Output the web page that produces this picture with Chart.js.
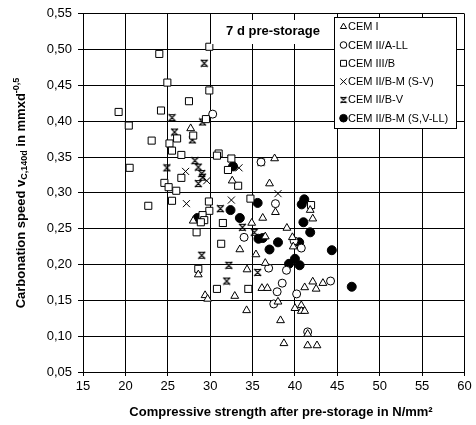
<!DOCTYPE html>
<html>
<head>
<meta charset="utf-8">
<script src="https://cdn.jsdelivr.net/npm/chart.js@4.4.1/dist/chart.umd.min.js"></script>
<style>
  html, body { margin: 0; padding: 0; background: #fff; }
  #wrap { width: 476px; height: 425px; position: relative; }
</style>
</head>
<body>
<div id="wrap"><canvas id="c" width="476" height="425"></canvas></div>
<script>
// ---- data (x = compressive strength N/mm², y = carbonation speed) ----
const seriesNames = ["CEM I", "CEM II/A-LL", "CEM III/B", "CEM II/B-M (S-V)", "CEM II/B-V", "CEM II/B-M (S,V-LL)"];

const cemI = [[27.7,0.390],[32.6,0.317],[37.6,0.348],[37.0,0.313],[37.7,0.273],[36.2,0.265],[41.8,0.276],[42.1,0.264],[39.05,0.251],[28.0,0.261],[34.9,0.258],[33.5,0.221],[35.4,0.214],[36.5,0.239],[39.7,0.238],[39.8,0.225],[36.5,0.202],[34.35,0.193],[28.6,0.186],[36.1,0.167],[36.75,0.167],[29.4,0.157],[29.7,0.152],[32.9,0.156],[34.3,0.136],[41.15,0.168],[42.1,0.176],[42.5,0.166],[43.3,0.174],[38.0,0.148],[40.0,0.139],[40.75,0.143],[40.75,0.135],[41.15,0.135],[38.3,0.122],[41.5,0.103],[38.7,0.090],[41.5,0.087],[42.6,0.087]];

const cemIIA_LL = [[30.3,0.410],[36.0,0.343],[37.7,0.285],[34.0,0.238],[39.9,0.233],[40.75,0.223],[36.9,0.195],[39.0,0.192],[38.5,0.174],[37.9,0.162],[40.2,0.159],[44.2,0.177],[37.5,0.145],[41.5,0.106]];

const cemIIIB = [[24.0,0.494],[29.9,0.504],[24.95,0.454],[29.9,0.443],[27.5,0.428],[19.2,0.413],[24.2,0.415],[29.5,0.403],[20.4,0.394],[23.1,0.373],[28.0,0.380],[26.1,0.376],[25.2,0.369],[25.5,0.359],[26.6,0.353],[31.0,0.355],[30.8,0.352],[20.5,0.335],[32.1,0.332],[26.6,0.321],[33.3,0.310],[24.6,0.314],[25.1,0.308],[26.0,0.303],[32.5,0.348],[22.7,0.282],[25.5,0.289],[29.85,0.288],[29.9,0.275],[34.75,0.292],[29.1,0.269],[29.3,0.262],[28.9,0.259],[28.4,0.245],[31.5,0.258],[31.3,0.229],[28.6,0.194],[30.8,0.166],[34.5,0.166],[41.9,0.283]];

const cemIIBM_SV = [[27.1,0.330],[29.6,0.317],[33.4,0.335],[32.5,0.290],[27.2,0.285],[38.0,0.299],[31.5,0.258],[34.5,0.166]];

const cemIIBV = [[29.3,0.481],[25.5,0.405],[29.1,0.399],[25.8,0.385],[27.9,0.374],[24.9,0.335],[28.2,0.345],[28.6,0.336],[29.0,0.327],[29.1,0.322],[28.6,0.313],[32.5,0.348],[31.2,0.278],[33.8,0.252],[35.2,0.245],[29.0,0.213],[32.2,0.199],[35.6,0.189],[31.95,0.177],[36.0,0.343]];

const cemIIBM_SVLL = [[32.7,0.337],[32.4,0.276],[33.5,0.265],[35.6,0.286],[28.5,0.265],[41.1,0.291],[40.8,0.284],[41.0,0.259],[41.8,0.245],[35.7,0.236],[36.2,0.237],[37.0,0.221],[38.0,0.231],[40.5,0.231],[44.35,0.220],[40.0,0.208],[39.3,0.201],[40.55,0.199],[46.7,0.169]];

const xTicks = [15,20,25,30,35,40,45,50,55,60];
const xTickLabels = ["15","20","25","30","35","40","45","50","55","60"];
const yTicks = [0.05,0.10,0.15,0.20,0.25,0.30,0.35,0.40,0.45,0.50,0.55];
const yTickLabels = ["0,05","0,10","0,15","0,20","0,25","0,30","0,35","0,40","0,45","0,50","0,55"];

const annotationText = "7 d pre-storage";
const xTitle = "Compressive strength after pre-storage in N/mm²";
const yTitleParts = [["Carbonation speed v","n"],["C,140d","sub"],[" in mmxd","n"],["-0,5","sup"]];

// ---- marker for CEM II/B-V (Excel style star) ----
function makeStar(size){
  const cv = document.createElement('canvas');
  cv.width = size; cv.height = size;
  const g = cv.getContext('2d');
  g.strokeStyle = '#000'; g.lineWidth = 1.1;
  g.beginPath();
  g.moveTo(1,1); g.lineTo(size-1,size-1);
  g.moveTo(size-1,1); g.lineTo(1,size-1);
  g.moveTo(2,1.5); g.lineTo(size-2,1.5);
  g.moveTo(2,size-1.5); g.lineTo(size-2,size-1.5);
  g.stroke();
  return cv;
}
const starBig = makeStar(9);
const starSmall = makeStar(8);

const toPts = arr => arr.map(p => ({x:p[0], y:p[1]}));

const styles = [
  {pointStyle:'triangle', radius:4.5, bg:'#fff', lr:3.6},
  {pointStyle:'circle', radius:4, bg:'#fff', lr:3.3},
  {pointStyle:'rect', radius:5, bg:'#fff', lr:4.2},
  {pointStyle:'crossRot', radius:5, bg:'#fff', lr:4.5},
  {pointStyle:starBig, radius:4.5, bg:'#fff', lr:4, legendStyle:starSmall},
  {pointStyle:'circle', radius:4.5, bg:'#000', lr:3.8}
];
const seriesData = [cemI, cemIIA_LL, cemIIIB, cemIIBM_SV, cemIIBV, cemIIBM_SVLL];

const datasets = seriesData.map((d,i) => ({
  label: seriesNames[i],
  data: toPts(d),
  pointStyle: styles[i].pointStyle,
  pointRadius: styles[i].radius,
  pointBackgroundColor: styles[i].bg,
  pointBorderColor: '#000',
  pointBorderWidth: 1,
  showLine: false
}));

const FONT = '"Liberation Sans", Arial, sans-serif';

const decorPlugin = {
  id: 'decor',
  afterDatasetsDraw(chart){
    const ctx = chart.ctx;
    ctx.save();
    // annotation text box
    ctx.fillStyle = '#fff';
    ctx.fillRect(211, 20, 122, 24);
    ctx.fillStyle = '#000';
    ctx.font = 'bold 13px ' + FONT;
    ctx.textAlign = 'center';
    ctx.textBaseline = 'middle';
    ctx.fillText(annotationText, 273, 31);

    // legend box
    const lx = 334, ly = 17, lw = 122, lh = 111;
    ctx.fillStyle = '#fff';
    ctx.fillRect(lx, ly, lw, lh);
    ctx.strokeStyle = '#000';
    ctx.lineWidth = 1;
    ctx.strokeRect(lx + 0.5, ly + 0.5, lw, lh);
    ctx.font = '11px ' + FONT;
    ctx.textAlign = 'left';
    ctx.textBaseline = 'middle';
    chart.data.datasets.forEach((ds, i) => {
      const yy = 26.7 + i * 18.3;
      ctx.fillStyle = styles[i].bg;
      ctx.strokeStyle = '#000';
      ctx.lineWidth = 1;
      Chart.helpers.drawPoint(ctx, {
        pointStyle: styles[i].legendStyle || styles[i].pointStyle,
        radius: styles[i].lr, rotation: 0, borderWidth: 1
      }, 343.5, yy);
      ctx.fillStyle = '#000';
      ctx.fillText(ds.label, 348, yy + 0.5);
    });

    // x-axis title
    ctx.font = 'bold 13px ' + FONT;
    ctx.textAlign = 'center';
    ctx.textBaseline = 'middle';
    ctx.fillText(xTitle, 281, 412);

    // y-axis title with sub/superscripts
    ctx.translate(21, 193);
    ctx.rotate(-Math.PI/2);
    const fN = 'bold 13px ' + FONT, fS = 'bold 9px ' + FONT;
    let total = 0;
    yTitleParts.forEach(p => { ctx.font = p[1]==='n'?fN:fS; total += ctx.measureText(p[0]).width; });
    let cx = -total/2;
    ctx.textAlign = 'left';
    ctx.textBaseline = 'middle';
    yTitleParts.forEach(p => {
      ctx.font = p[1]==='n'?fN:fS;
      const dy = p[1]==='sub' ? 3.5 : (p[1]==='sup' ? -4 : 0);
      ctx.fillText(p[0], cx, dy);
      cx += ctx.measureText(p[0]).width;
    });
    ctx.restore();
  }
};

new Chart(document.getElementById('c'), {
  type: 'scatter',
  data: { datasets },
  options: {
    responsive: false,
    animation: false,
    events: [],
    layout: { padding: { top: 10, right: 11.5, left: 0, bottom: 0 } },
    plugins: { legend: { display: false }, tooltip: { enabled: false } },
    scales: {
      x: {
        type: 'linear', min: 15, max: 60,
        afterBuildTicks: s => { s.ticks = xTicks.map(v => ({value: v})); },
        afterFit: s => { s.height = 53; },
        grid: { color: '#000', lineWidth: 1, tickLength: 4, tickColor: '#000' },
        border: { color: '#000', width: 1 },
        ticks: { color: '#000', font: { family: FONT, size: 13 }, padding: 3, maxRotation: 0,
                 callback: (v, i) => xTickLabels[i] }
      },
      y: {
        type: 'linear', min: 0.05, max: 0.55,
        afterBuildTicks: s => { s.ticks = yTicks.map(v => ({value: v})); },
        afterFit: s => { s.width = 83; },
        grid: { color: '#000', lineWidth: 1, tickLength: 5, tickColor: '#000' },
        border: { color: '#000', width: 1 },
        ticks: { color: '#000', font: { family: FONT, size: 13 }, padding: 6,
                 callback: (v, i) => yTickLabels[i] }
      }
    }
  },
  plugins: [decorPlugin]
});
</script>
</body>
</html>
